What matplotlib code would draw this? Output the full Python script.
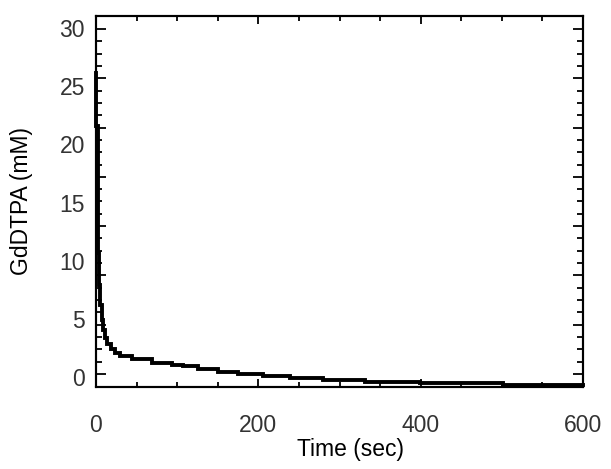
import numpy as np
import matplotlib.pyplot as plt

# Courbe GdDTPA, valeurs en escalier
temps = [0, 0.5, 2.5, 4, 5.5, 7, 9, 11, 14, 18, 23, 30, 44, 69, 94, 107, 126,
         150, 175, 206, 239, 280, 331, 399, 501, 600]
gd = [26.1, 21.6, 10.7, 7.9, 6.2, 4.9, 4.0, 3.35, 2.84, 2.41, 2.06, 1.8, 1.55,
      1.2, 1.03, 0.95, 0.69, 0.46, 0.26, 0.09, -0.09, -0.26, -0.43, -0.54,
      -0.69, -0.69]

y_labels = [0, 5, 10, 15, 20, 25, 30]
x_labels = [0, 200, 400, 600]

plt.rcParams['font.family'] = ['Liberation Sans', 'DejaVu Sans']

fig = plt.figure(figsize=(6.11, 4.69), dpi=100)
ax = fig.add_axes([96/611, 1 - 386.5/469, 487/611, 370.5/469])

ax.plot(temps, gd, color='black', lw=2.8, drawstyle='steps-post',
        solid_joinstyle='miter', clip_on=False)

ax.set_xlim(0, 600)
ax.set_ylim(-0.82, 31.04)

# x ticks
ax.set_xticks(x_labels)
ax.set_xticks(np.arange(0, 601, 50), minor=True)
ax.tick_params(axis='x', which='major', direction='in', length=6, width=1.3,
               top=True, bottom=True, pad=20, labelsize=16.5, labelcolor='#333333')
ax.tick_params(axis='x', which='minor', direction='in', length=3.4, width=1.3,
               top=True, bottom=True)

# y labels (tick marks drawn on twin axis)
ax.set_yticks(y_labels)
ax.tick_params(axis='y', which='major', length=0, pad=8, labelsize=16.5,
               labelcolor='#333333')

ay = ax.twinx()
ay.set_ylim(ax.get_ylim())
major_pos = 0.258 + 4.238 * np.arange(8)
ay.set_yticks(major_pos)
ay.set_yticks(0.258 + 1.0595 * np.arange(-0, 29), minor=True)
ay.tick_params(axis='y', which='major', direction='in', length=7, width=1.3,
               left=True, right=True, labelleft=False, labelright=False)
ay.tick_params(axis='y', which='minor', direction='in', length=4.3, width=1.3,
               left=True, right=True, labelleft=False, labelright=False)

for a in (ax, ay):
    for s in a.spines.values():
        s.set_linewidth(1.5)

ax.set_xlabel('Time (sec)', fontsize=16.5)
ax.xaxis.set_label_coords(0.522, -0.138)
ax.set_ylabel('GdDTPA (mM)', fontsize=16.5)
ax.yaxis.set_label_coords(-(96 - 33) / 487, 0.5)

fig.savefig('out.png', dpi=100)
